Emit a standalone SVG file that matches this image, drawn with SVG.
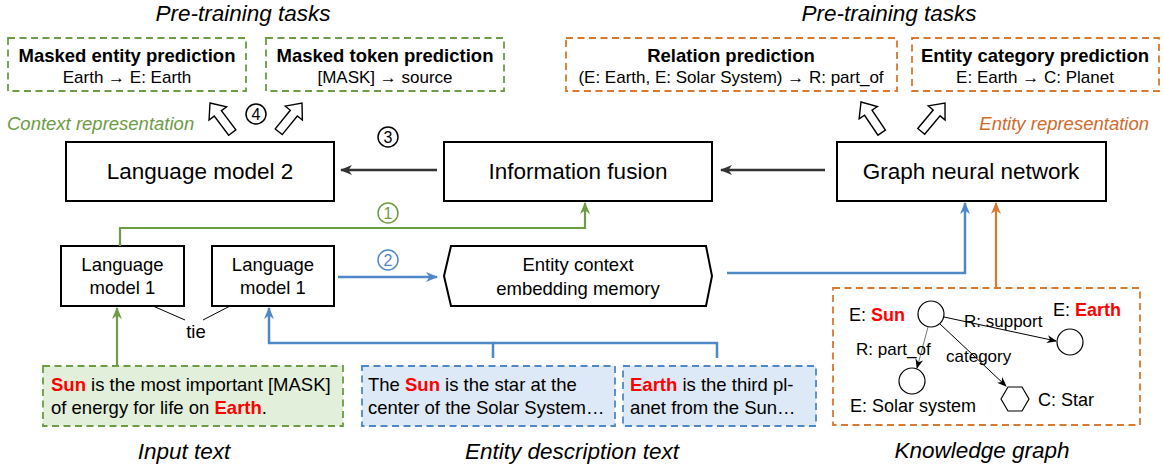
<svg xmlns="http://www.w3.org/2000/svg" xmlns:xlink="http://www.w3.org/1999/xlink" width="1163" height="467" viewBox="0 0 1163 467">
  <style>
    text { font-family: "Liberation Sans", Arial, sans-serif; fill: #000; }
    .cap { font-size: 22.5px; font-style: italic; text-anchor: middle; }
    .ttl { font-size: 18.5px; font-weight: bold; text-anchor: middle; }
    .sub { font-size: 17px; text-anchor: middle; }
    .big { font-size: 22.5px; text-anchor: middle; }
    .mid { font-size: 18.5px; text-anchor: middle; }
    .body { font-size: 18.5px; }
    .kg { font-size: 18px; }
    .rel { font-size: 17px; }
    .num { font-size: 16px; text-anchor: middle; }
    .red { fill: #ff0000; font-weight: bold; }
    .box { fill: #fff; stroke: #000; stroke-width: 2; }
    .dash-g { fill: #fff; stroke: #6e9b45; stroke-width: 1.8; stroke-dasharray: 7 4.5; }
    .dash-o { fill: #fff; stroke: #d9782f; stroke-width: 1.8; stroke-dasharray: 7 4.5; }
    .in-g { fill: #e2efda; stroke: #6e9b45; stroke-width: 1.8; stroke-dasharray: 7 4.5; }
    .in-b { fill: #dde9f6; stroke: #4f88c6; stroke-width: 1.8; stroke-dasharray: 7 4.5; }
    .kgbox { fill: #fff; stroke: #d9782f; stroke-width: 1.8; stroke-dasharray: 7 4.5; }
    .blk { fill: #fff; stroke: #000; stroke-width: 1.4; stroke-linejoin: miter; }
    .c-dark { fill: none; stroke: #333; stroke-width: 2.4; }
    .c-green { fill: none; stroke: #6e9b45; stroke-width: 2.2; }
    .c-blue { fill: none; stroke: #4f88c6; stroke-width: 2.5; }
    .c-orange { fill: none; stroke: #d9782f; stroke-width: 2.2; }
    .c-thin { fill: none; stroke: #000; stroke-width: 1; }
    .ring { fill: #fff; stroke-width: 1.5; }
    .node { fill: #fff; stroke: #000; stroke-width: 1.2; }
  </style>
  <defs>
    <marker id="ah-dark" viewBox="0 0 12 10" refX="11" refY="5" markerWidth="12" markerHeight="10" markerUnits="userSpaceOnUse" orient="auto">
      <path d="M0,0 L12,5 L0,10 L3.5,5 z" fill="#333"/>
    </marker>
    <marker id="ah-green" viewBox="0 0 12 10" refX="11" refY="5" markerWidth="12" markerHeight="10" markerUnits="userSpaceOnUse" orient="auto">
      <path d="M0,0 L12,5 L0,10 L3.5,5 z" fill="#6e9b45"/>
    </marker>
    <marker id="ah-blue" viewBox="0 0 12 10" refX="11" refY="5" markerWidth="12" markerHeight="10" markerUnits="userSpaceOnUse" orient="auto">
      <path d="M0,0 L12,5 L0,10 L3.5,5 z" fill="#4f88c6"/>
    </marker>
    <marker id="ah-orange" viewBox="0 0 12 10" refX="11" refY="5" markerWidth="12" markerHeight="10" markerUnits="userSpaceOnUse" orient="auto">
      <path d="M0,0 L12,5 L0,10 L3.5,5 z" fill="#d9782f"/>
    </marker>
    <marker id="ah-thin" viewBox="0 0 10 8" refX="9" refY="4" markerWidth="10" markerHeight="8" markerUnits="userSpaceOnUse" orient="auto">
      <path d="M0,0 L10,4 L0,8 L3,4 z" fill="#000"/>
    </marker>
    <!-- hollow block arrow pointing up, tip at origin -->
    <path id="blk" d="M0,0 L11,13 L4.5,13 L4.5,37 L-4.5,37 L-4.5,13 L-11,13 z"/>
  </defs>

  <!-- section captions -->
  <text class="cap" x="243" y="21">Pre-training tasks</text>
  <text class="cap" x="889" y="21">Pre-training tasks</text>
  <text x="7" y="130" style="font-size:18.5px;font-style:italic;fill:#6e9b45">Context representation</text>
  <text x="1149" y="130" style="font-size:18.5px;font-style:italic;fill:#d26a2c;text-anchor:end">Entity representation</text>
  <text class="cap" x="184" y="459">Input text</text>
  <text class="cap" x="572" y="459">Entity description text</text>
  <text class="cap" x="982" y="458">Knowledge graph</text>

  <!-- pre-training task boxes -->
  <g id="task-masked-entity">
    <rect class="dash-g" x="8" y="38" width="238" height="53"/>
    <text class="ttl" x="127" y="62">Masked entity prediction</text>
    <text class="sub" x="127" y="83">Earth  →  E: Earth</text>
  </g>
  <g id="task-masked-token">
    <rect class="dash-g" x="266" y="38" width="238" height="53"/>
    <text class="ttl" x="385" y="62">Masked token prediction</text>
    <text class="sub" x="385" y="83">[MASK]  →  source</text>
  </g>
  <g id="task-relation">
    <rect class="dash-o" x="566" y="38" width="331" height="53"/>
    <text class="ttl" x="731" y="62">Relation prediction</text>
    <text class="sub" x="731" y="83">(E: Earth, E: Solar System)  → R: part_of</text>
  </g>
  <g id="task-entity-category">
    <rect class="dash-o" x="912" y="38" width="247" height="53"/>
    <text class="ttl" x="1035" y="62">Entity category prediction</text>
    <text class="sub" x="1035" y="83">E: Earth  →   C: Planet</text>
  </g>

  <!-- main blocks -->
  <g id="lm2">
    <rect class="box" x="66" y="142" width="268" height="59"/>
    <text class="big" x="200" y="179">Language model 2</text>
  </g>
  <g id="fusion">
    <rect class="box" x="444" y="142" width="268" height="59"/>
    <text class="big" x="578" y="179">Information fusion</text>
  </g>
  <g id="gnn">
    <rect class="box" x="837" y="142" width="269" height="59"/>
    <text class="big" x="971" y="179">Graph neural network</text>
  </g>
  <g id="lm1-a">
    <rect class="box" x="61" y="246" width="123" height="60"/>
    <text class="mid" x="122.5" y="271">Language</text>
    <text class="mid" x="122.5" y="294">model 1</text>
  </g>
  <g id="lm1-b">
    <rect class="box" x="212" y="246" width="122" height="60"/>
    <text class="mid" x="273" y="271">Language</text>
    <text class="mid" x="273" y="294">model 1</text>
  </g>
  <g id="memory">
    <polygon class="box" points="444,276 451,246 706,246 712,276 706,306 451,306"/>
    <text class="mid" x="578" y="271">Entity context</text>
    <text class="mid" x="578" y="295">embedding memory</text>
  </g>

  <!-- input texts -->
  <g id="input-text">
    <rect class="in-g" x="43" y="366" width="300" height="60"/>
    <text class="body" x="51" y="391"><tspan class="red">Sun</tspan> is the most important [MASK]</text>
    <text class="body" x="51" y="414">of energy for life on <tspan class="red">Earth</tspan>.</text>
  </g>
  <g id="desc-sun">
    <rect class="in-b" x="362" y="366" width="253" height="60"/>
    <text class="body" x="368" y="391">The <tspan class="red">Sun</tspan> is the star at the</text>
    <text class="body" x="368" y="414">center of the Solar System…</text>
  </g>
  <g id="desc-earth">
    <rect class="in-b" x="623" y="366" width="193" height="60"/>
    <text class="body" x="630" y="391"><tspan class="red">Earth</tspan> is the third pl-</text>
    <text class="body" x="630" y="414">anet from the Sun…</text>
  </g>

  <!-- knowledge graph -->
  <g id="kg">
    <rect class="kgbox" x="833" y="288" width="307" height="137"/>
    <g id="kg-edges">
      <line class="c-thin" x1="944" y1="317" x2="1056" y2="341" marker-end="url(#ah-thin)"/>
      <line class="c-thin" x1="928" y1="327" x2="917" y2="368" marker-end="url(#ah-thin)" style="stroke:#777"/>
      <line class="c-thin" x1="940" y1="324" x2="1006" y2="386" marker-end="url(#ah-thin)"/>
    </g>
    <circle class="node" cx="931" cy="314" r="13"/>
    <circle class="node" cx="1070" cy="342" r="13"/>
    <circle class="node" cx="912" cy="381" r="13"/>
    <polygon class="node" points="1001,399 1008,387 1022,387 1029,399 1022,411 1008,411"/>
    <text class="kg" x="849" y="321">E: <tspan class="red">Sun</tspan></text>
    <text class="kg" x="1053" y="316">E: <tspan class="red">Earth</tspan></text>
    <text class="kg" x="850" y="412">E: Solar system</text>
    <text class="kg" x="1038" y="406">C: Star</text>
    <text class="rel" x="964" y="327">R: support</text>
    <text class="rel" x="856" y="355">R: part_of</text>
    <text class="rel" x="946" y="362">category</text>
  </g>

  <!-- connectors -->
  <g id="connectors">
    <path class="c-dark" d="M825,170 H721" marker-end="url(#ah-dark)"/>
    <path class="c-dark" d="M437,170 H341" marker-end="url(#ah-dark)"/>
    <path class="c-green" d="M120,246 V228 H585 V203" marker-end="url(#ah-green)"/>
    <path class="c-blue" d="M338,277 H437" marker-end="url(#ah-blue)"/>
    <path class="c-blue" d="M727,273 H965 V203" marker-end="url(#ah-blue)"/>
    <path class="c-orange" d="M996,288 V203" marker-end="url(#ah-orange)"/>
    <path class="c-green" d="M117,366 V308" marker-end="url(#ah-green)"/>
    <path class="c-blue" d="M493,358 V343 H269 V308" marker-end="url(#ah-blue)"/>
    <path class="c-blue" d="M717,358 V343 H493"/>
    <path class="c-thin" d="M153,306 L185,320 M203,320 L230,306"/>
    <text class="mid" x="196" y="338">tie</text>
    <use xlink:href="#blk" class="blk" transform="translate(210,103) rotate(-37)"/>
    <use xlink:href="#blk" class="blk" transform="translate(302,103) rotate(39)"/>
    <use xlink:href="#blk" class="blk" transform="translate(861,102) rotate(-34)"/>
    <use xlink:href="#blk" class="blk" transform="translate(945,103) rotate(40)"/>
  </g>

  <!-- step markers -->
  <g id="step-1">
    <circle class="ring" cx="388" cy="213" r="10" stroke="#6e9b45"/>
    <text class="num" x="388" y="219" style="fill:#6e9b45">1</text>
  </g>
  <g id="step-2">
    <circle class="ring" cx="388" cy="260" r="10" stroke="#4f88c6"/>
    <text class="num" x="388" y="266" style="fill:#4f88c6">2</text>
  </g>
  <g id="step-3">
    <circle class="ring" cx="388" cy="137" r="10" stroke="#000"/>
    <text class="num" x="388" y="143">3</text>
  </g>
  <g id="step-4">
    <circle class="ring" cx="256" cy="114" r="10" stroke="#000"/>
    <text class="num" x="256" y="120">4</text>
  </g>
</svg>
